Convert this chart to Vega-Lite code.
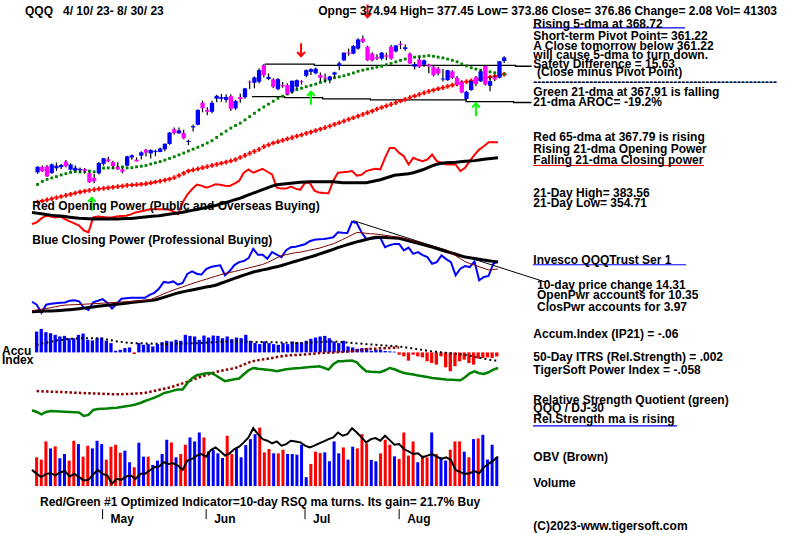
{
"$schema":"https://vega.github.io/schema/vega-lite/v6.json",
"width":800,"height":539,
"autosize":{"type":"fit","contains":"padding"},
"padding":0,
"background":"white",
"config":{"view":{"stroke":null},"point":{"opacity":1},"text":{"font":"Liberation Sans","fontWeight":"bold","fontSize":12,"align":"left","baseline":"middle","color":"#000000"}},
"datasets":{
"days":[
{"i":0,"d":"04-10","o":315.0,"h":318.3,"l":314.2,"c":318.0,"m21":308.5,"m65":299.0,"op":28.3,"opm":40,"cp":30,"cpm":20,"cpm2":21,"acc":0.305,"accm":0.111,"acc2":-0.567,"rsq":20.7,"vol":41.3,"vup":false,"obv":17.3},
{"i":1,"d":"04-11","o":318.0,"h":318.7,"l":315.2,"c":315.6,"m21":310.1,"m65":299.6,"op":30,"opm":39.3,"cp":27,"cpm":20.2,"cpm2":21.7,"acc":0.344,"accm":0.125,"acc2":-0.570,"rsq":19,"vol":38.0,"vup":false,"obv":13.3},
{"i":2,"d":"04-12","o":318.2,"h":319.0,"l":312.6,"c":312.8,"m21":311.2,"m65":300.2,"op":34,"opm":38.7,"cp":19,"cpm":20.4,"cpm2":22.5,"acc":0.296,"accm":0.14,"acc2":-0.572,"rsq":16.5,"vol":64.1,"vup":false,"obv":10},
{"i":3,"d":"04-13","o":314.6,"h":319.8,"l":314.2,"c":319.3,"m21":312.0,"m65":300.8,"op":36.7,"opm":38,"cp":27,"cpm":20.6,"cpm2":23.2,"acc":0.281,"accm":0.155,"acc2":-0.575,"rsq":19,"vol":54.1,"vup":true,"obv":13.3},
{"i":4,"d":"04-14","o":317.2,"h":320.3,"l":315.8,"c":318.6,"m21":312.7,"m65":301.4,"op":36,"opm":37.3,"cp":28,"cpm":20.8,"cpm2":24,"acc":0.257,"accm":0.17,"acc2":-0.578,"rsq":20,"vol":57.0,"vup":false,"obv":14},
{"i":5,"d":"04-17","o":317.8,"h":319.5,"l":316.8,"c":319.0,"m21":313.6,"m65":302.0,"op":35,"opm":36.8,"cp":28.5,"cpm":21,"cpm2":25,"acc":0.233,"accm":0.18,"acc2":-0.58,"rsq":19.7,"vol":39.9,"vup":true,"obv":11.7},
{"i":6,"d":"04-18","o":320.8,"h":321.7,"l":317.6,"c":318.3,"m21":314.3,"m65":302.6,"op":36,"opm":36.3,"cp":29,"cpm":21.3,"cpm2":26,"acc":0.242,"accm":0.19,"acc2":-0.583,"rsq":19.5,"vol":46.0,"vup":true,"obv":15},
{"i":7,"d":"04-19","o":316.4,"h":319.9,"l":316.0,"c":319.3,"m21":315.0,"m65":303.2,"op":33.3,"opm":35.8,"cp":29.3,"cpm":21.6,"cpm2":26.6,"acc":0.208,"accm":0.199,"acc2":-0.586,"rsq":19.2,"vol":36.6,"vup":false,"obv":16},
{"i":8,"d":"04-20","o":316.0,"h":318.8,"l":315.4,"c":317.5,"m21":315.4,"m65":303.8,"op":31,"opm":35.2,"cp":31,"cpm":22,"cpm2":26.9,"acc":0.208,"accm":0.202,"acc2":-0.589,"rsq":19,"vol":65.0,"vup":false,"obv":10.7},
{"i":9,"d":"04-21","o":316.2,"h":317.6,"l":315.0,"c":316.9,"m21":315.2,"m65":304.4,"op":29,"opm":34.7,"cp":31.5,"cpm":22.5,"cpm2":27.1,"acc":0.257,"accm":0.205,"acc2":-0.592,"rsq":18.7,"vol":60.3,"vup":true,"obv":13.3},
{"i":10,"d":"04-24","o":316.8,"h":317.3,"l":314.2,"c":315.8,"m21":315.6,"m65":304.9,"op":26.7,"opm":34.2,"cp":30.5,"cpm":23,"cpm2":27.3,"acc":0.276,"accm":0.207,"acc2":-0.595,"rsq":18.5,"vol":42.2,"vup":false,"obv":10},
{"i":11,"d":"04-25","o":314.6,"h":315.4,"l":309.4,"c":309.6,"m21":315.7,"m65":305.3,"op":22,"opm":34,"cp":24,"cpm":23.6,"cpm2":27.5,"acc":0.184,"accm":0.208,"acc2":-0.598,"rsq":15,"vol":57.9,"vup":false,"obv":6.7},
{"i":12,"d":"04-26","o":312.0,"h":314.2,"l":309.2,"c":310.2,"m21":315.3,"m65":305.7,"op":20,"opm":33.7,"cp":21.7,"cpm":24.2,"cpm2":27.8,"acc":0.175,"accm":0.208,"acc2":-0.6,"rsq":16,"vol":54.1,"vup":true,"obv":7.3},
{"i":13,"d":"04-27","o":314.6,"h":320.6,"l":313.8,"c":320.0,"m21":315.2,"m65":306.1,"op":35,"opm":33.5,"cp":29.5,"cpm":24.8,"cpm2":28,"acc":0.208,"accm":0.208,"acc2":-0.603,"rsq":21,"vol":65.0,"vup":true,"obv":12.7},
{"i":14,"d":"04-28","o":319.6,"h":322.8,"l":318.6,"c":322.6,"m21":317.3,"m65":306.4,"op":36,"opm":33.4,"cp":31,"cpm":25.5,"cpm2":28.3,"acc":0.218,"accm":0.2,"acc2":-0.606,"rsq":22,"vol":60.3,"vup":true,"obv":17.3},
{"i":15,"d":"05-01","o":322.0,"h":323.4,"l":320.4,"c":320.9,"m21":317.4,"m65":306.7,"op":35.5,"opm":33.3,"cp":32.7,"cpm":26,"cpm2":28.6,"acc":0.17,"accm":0.19,"acc2":-0.609,"rsq":22.2,"vol":38.0,"vup":false,"obv":13.3},
{"i":16,"d":"05-02","o":320.5,"h":321.3,"l":316.8,"c":318.4,"m21":317.4,"m65":307.0,"op":35,"opm":33.3,"cp":29,"cpm":26.6,"cpm2":28.9,"acc":0.136,"accm":0.178,"acc2":-0.612,"rsq":22.5,"vol":56.5,"vup":false,"obv":11.7},
{"i":17,"d":"05-03","o":318.0,"h":320.5,"l":316.3,"c":316.6,"m21":317.7,"m65":307.3,"op":35,"opm":33.4,"cp":23.3,"cpm":27.1,"cpm2":29.2,"acc":0.024,"accm":0.165,"acc2":-0.615,"rsq":23,"vol":59.3,"vup":false,"obv":3.3},
{"i":18,"d":"05-04","o":316.6,"h":317.4,"l":314.5,"c":315.3,"m21":317.9,"m65":307.6,"op":36,"opm":33.5,"cp":28,"cpm":27.6,"cpm2":29.5,"acc":0.039,"accm":0.155,"acc2":-0.612,"rsq":23.3,"vol":47.9,"vup":false,"obv":8.3},
{"i":19,"d":"05-05","o":318.6,"h":323.9,"l":318.3,"c":323.6,"m21":317.4,"m65":308.0,"op":36.5,"opm":33.7,"cp":33,"cpm":28.1,"cpm2":29.8,"acc":0.063,"accm":0.146,"acc2":-0.61,"rsq":24,"vol":50.8,"vup":true,"obv":7.3},
{"i":20,"d":"05-08","o":323.0,"h":324.6,"l":321.8,"c":324.2,"m21":317.5,"m65":308.2,"op":36.7,"opm":33.9,"cp":33.5,"cpm":28.6,"cpm2":30.1,"acc":0.073,"accm":0.14,"acc2":-0.607,"rsq":24.7,"vol":34.2,"vup":true,"obv":10.7},
{"i":21,"d":"05-09","o":321.8,"h":323.1,"l":320.9,"c":320.9,"m21":318.0,"m65":308.4,"op":38,"opm":34,"cp":34,"cpm":29.2,"cpm2":30.4,"acc":-0.024,"accm":0.136,"acc2":-0.604,"rsq":25.5,"vol":27.1,"vup":false,"obv":11.7},
{"i":22,"d":"05-10","o":324.0,"h":326.3,"l":321.9,"c":325.8,"m21":318.3,"m65":308.6,"op":40,"opm":34.4,"cp":34,"cpm":29.7,"cpm2":30.7,"acc":0.136,"accm":0.134,"acc2":-0.601,"rsq":26.5,"vol":62.2,"vup":true,"obv":8.3},
{"i":23,"d":"05-11","o":327.2,"h":327.6,"l":323.6,"c":325.6,"m21":318.7,"m65":308.9,"op":41,"opm":34.9,"cp":34,"cpm":30.2,"cpm2":31,"acc":0.111,"accm":0.132,"acc2":-0.597,"rsq":28,"vol":42.2,"vup":true,"obv":13.3},
{"i":24,"d":"05-12","o":325.2,"h":327.5,"l":322.4,"c":327.0,"m21":319.5,"m65":309.3,"op":42,"opm":35.4,"cp":34,"cpm":30.7,"cpm2":31.3,"acc":0.121,"accm":0.13,"acc2":-0.583,"rsq":30,"vol":42.2,"vup":false,"obv":13.3},
{"i":25,"d":"05-15","o":326.0,"h":327.2,"l":323.7,"c":326.6,"m21":320.1,"m65":309.8,"op":43.3,"opm":35.9,"cp":37,"cpm":31.2,"cpm2":31.6,"acc":0.087,"accm":0.128,"acc2":-0.569,"rsq":31.7,"vol":30.4,"vup":true,"obv":16.7},
{"i":26,"d":"05-16","o":326.0,"h":328.4,"l":325.8,"c":327.8,"m21":320.8,"m65":310.3,"op":43.3,"opm":36.4,"cp":39,"cpm":31.7,"cpm2":34,"acc":0.121,"accm":0.125,"acc2":-0.554,"rsq":33.5,"vol":36.6,"vup":true,"obv":20},
{"i":27,"d":"05-17","o":327.4,"h":330.6,"l":326.4,"c":330.4,"m21":321.6,"m65":310.8,"op":43.3,"opm":36.7,"cp":43.3,"cpm":33,"cpm2":36,"acc":0.15,"accm":0.122,"acc2":-0.54,"rsq":35.5,"vol":46.0,"vup":true,"obv":20.7},
{"i":28,"d":"05-18","o":330.3,"h":336.8,"l":329.8,"c":336.4,"m21":322.5,"m65":311.4,"op":43.3,"opm":37.4,"cp":50,"cpm":34.4,"cpm2":38,"acc":0.17,"accm":0.121,"acc2":-0.525,"rsq":38,"vol":66.5,"vup":true,"obv":25},
{"i":29,"d":"05-19","o":338.2,"h":339.1,"l":335.4,"c":336.1,"m21":323.4,"m65":312.2,"op":43,"opm":38.1,"cp":49.3,"cpm":35.9,"cpm2":40,"acc":0.16,"accm":0.122,"acc2":-0.508,"rsq":39,"vol":62.7,"vup":false,"obv":23.3},
{"i":30,"d":"05-22","o":336.0,"h":339.2,"l":335.8,"c":337.6,"m21":324.4,"m65":313.3,"op":41,"opm":38.8,"cp":50.5,"cpm":37.4,"cpm2":41.7,"acc":0.184,"accm":0.125,"acc2":-0.485,"rsq":40.5,"vol":41.3,"vup":true,"obv":24},
{"i":31,"d":"05-23","o":336.2,"h":337.9,"l":332.8,"c":333.3,"m21":325.4,"m65":314.5,"op":38.3,"opm":39.5,"cp":47.3,"cpm":38.9,"cpm2":43.4,"acc":0.17,"accm":0.128,"acc2":-0.462,"rsq":41.7,"vol":46.0,"vup":false,"obv":21.7},
{"i":32,"d":"05-24","o":331.4,"h":332.6,"l":329.7,"c":332.0,"m21":326.5,"m65":315.7,"op":50,"opm":40.2,"cp":49,"cpm":40,"cpm2":45,"acc":0.257,"accm":0.13,"acc2":-0.44,"rsq":41.7,"vol":59.3,"vup":false,"obv":17.3},
{"i":33,"d":"05-25","o":339.2,"h":340.7,"l":337.0,"c":339.9,"m21":327.5,"m65":316.3,"op":58,"opm":41.2,"cp":58,"cpm":41,"cpm2":46.7,"acc":0.242,"accm":0.132,"acc2":-0.416,"rsq":48,"vol":69.8,"vup":true,"obv":26.7},
{"i":34,"d":"05-26","o":340.6,"h":349.0,"l":340.4,"c":348.6,"m21":328.5,"m65":316.9,"op":63.3,"opm":42.1,"cp":60.7,"cpm":41.9,"cpm2":48.3,"acc":0.233,"accm":0.134,"acc2":-0.39,"rsq":53,"vol":64.1,"vup":true,"obv":28.3},
{"i":35,"d":"05-30","o":352.5,"h":353.6,"l":347.3,"c":349.5,"m21":329.6,"m65":317.5,"op":68,"opm":43,"cp":58.3,"cpm":42.9,"cpm2":49.8,"acc":0.184,"accm":0.136,"acc2":-0.365,"rsq":56,"vol":76.9,"vup":true,"obv":31.7},
{"i":36,"d":"05-31","o":348.6,"h":350.0,"l":345.8,"c":347.6,"m21":330.8,"m65":318.1,"op":67,"opm":44,"cp":57.3,"cpm":43.8,"cpm2":51.3,"acc":0.247,"accm":0.14,"acc2":-0.343,"rsq":57,"vol":69.8,"vup":false,"obv":33.3},
{"i":37,"d":"06-01","o":347.6,"h":353.5,"l":346.8,"c":352.4,"m21":332.0,"m65":318.7,"op":65,"opm":45,"cp":63,"cpm":44.8,"cpm2":52.7,"acc":0.218,"accm":0.144,"acc2":-0.322,"rsq":58,"vol":49.8,"vup":true,"obv":30.7},
{"i":38,"d":"06-02","o":354.6,"h":356.8,"l":352.8,"c":356.2,"m21":333.8,"m65":319.3,"op":66.5,"opm":46,"cp":65,"cpm":45.7,"cpm2":54.2,"acc":0.247,"accm":0.148,"acc2":-0.301,"rsq":58.3,"vol":51.7,"vup":true,"obv":37.3},
{"i":39,"d":"06-05","o":354.6,"h":357.2,"l":353.0,"c":355.5,"m21":335.6,"m65":319.9,"op":68.3,"opm":47,"cp":66,"cpm":46.7,"cpm2":55.7,"acc":0.242,"accm":0.152,"acc2":-0.28,"rsq":56,"vol":47.0,"vup":true,"obv":40},
{"i":40,"d":"06-06","o":354.0,"h":357.0,"l":352.6,"c":355.6,"m21":337.2,"m65":320.5,"op":68,"opm":48.4,"cp":66.7,"cpm":48.4,"cpm2":57.1,"acc":0.208,"accm":0.156,"acc2":-0.265,"rsq":53,"vol":40.3,"vup":true,"obv":36},
{"i":41,"d":"06-07","o":356.0,"h":357.0,"l":348.0,"c":349.2,"m21":338.8,"m65":321.2,"op":67,"opm":49.8,"cp":56.7,"cpm":50.1,"cpm2":58.5,"acc":0.233,"accm":0.158,"acc2":-0.252,"rsq":50,"vol":72.2,"vup":false,"obv":31.7},
{"i":42,"d":"06-08","o":349.4,"h":354.0,"l":348.6,"c":353.4,"m21":340.2,"m65":321.9,"op":66.7,"opm":51.2,"cp":61,"cpm":51.8,"cpm2":59.5,"acc":0.194,"accm":0.16,"acc2":-0.238,"rsq":51,"vol":46.0,"vup":false,"obv":34},
{"i":43,"d":"06-09","o":355.5,"h":357.5,"l":352.4,"c":354.4,"m21":341.5,"m65":323.0,"op":69,"opm":52.6,"cp":67,"cpm":53.5,"cpm2":60.5,"acc":0.218,"accm":0.159,"acc2":-0.222,"rsq":52,"vol":54.6,"vup":true,"obv":38.3},
{"i":44,"d":"06-12","o":355.4,"h":360.4,"l":354.6,"c":360.2,"m21":343.2,"m65":324.1,"op":71.7,"opm":54,"cp":70,"cpm":55.2,"cpm2":61.7,"acc":0.208,"accm":0.158,"acc2":-0.195,"rsq":52.7,"vol":41.3,"vup":true,"obv":40.7},
{"i":45,"d":"06-13","o":363.8,"h":364.4,"l":359.8,"c":363.4,"m21":345.0,"m65":325.2,"op":80,"opm":55.8,"cp":71,"cpm":56.8,"cpm2":62.9,"acc":0.257,"accm":0.156,"acc2":-0.167,"rsq":57,"vol":58.9,"vup":true,"obv":45},
{"i":46,"d":"06-14","o":363.2,"h":366.6,"l":360.3,"c":366.1,"m21":346.8,"m65":326.3,"op":83.3,"opm":57.6,"cp":74,"cpm":58.4,"cpm2":64,"acc":0.17,"accm":0.154,"acc2":-0.14,"rsq":61,"vol":67.4,"vup":true,"obv":50},
{"i":47,"d":"06-15","o":363.8,"h":371.0,"l":362.8,"c":370.0,"m21":348.6,"m65":327.4,"op":80,"opm":59.4,"cp":83.3,"cpm":60,"cpm2":65.2,"acc":0.136,"accm":0.153,"acc2":-0.122,"rsq":63.3,"vol":74.5,"vup":true,"obv":59.3},
{"i":48,"d":"06-16","o":372.7,"h":373.3,"l":366.0,"c":367.3,"m21":350.2,"m65":328.8,"op":82,"opm":61.2,"cp":77.3,"cpm":61,"cpm2":66.4,"acc":0.121,"accm":0.152,"acc2":-0.111,"rsq":62.5,"vol":84.0,"vup":false,"obv":53.3},
{"i":49,"d":"06-20","o":365.2,"h":368.3,"l":364.6,"c":366.4,"m21":351.7,"m65":329.8,"op":84,"opm":63,"cp":77.3,"cpm":62.1,"cpm2":67.6,"acc":0.16,"accm":0.151,"acc2":-0.1,"rsq":62,"vol":48.4,"vup":false,"obv":48.3},
{"i":50,"d":"06-21","o":365.0,"h":365.6,"l":360.4,"c":361.0,"m21":353.3,"m65":330.8,"op":81,"opm":64.8,"cp":73.3,"cpm":63.1,"cpm2":69.5,"acc":0.136,"accm":0.15,"acc2":-0.09,"rsq":61.5,"vol":53.2,"vup":false,"obv":46.7},
{"i":51,"d":"06-22","o":359.8,"h":365.8,"l":359.2,"c":365.2,"m21":354.9,"m65":331.5,"op":78.3,"opm":66.5,"cp":80,"cpm":64.2,"cpm2":71.8,"acc":0.121,"accm":0.148,"acc2":-0.078,"rsq":61,"vol":47.0,"vup":true,"obv":44},
{"i":52,"d":"06-23","o":361.9,"h":363.6,"l":360.6,"c":361.3,"m21":356.0,"m65":332.2,"op":65,"opm":68,"cp":77.5,"cpm":65.2,"cpm2":74.2,"acc":0.111,"accm":0.146,"acc2":-0.065,"rsq":60,"vol":47.0,"vup":false,"obv":46},
{"i":53,"d":"06-26","o":362.0,"h":363.0,"l":356.6,"c":357.0,"m21":357.2,"m65":333.0,"op":64,"opm":68.5,"cp":75,"cpm":66.5,"cpm2":76.5,"acc":0.136,"accm":0.144,"acc2":-0.052,"rsq":61,"vol":52.2,"vup":false,"obv":41.7},
{"i":54,"d":"06-27","o":358.4,"h":364.4,"l":357.4,"c":364.3,"m21":358.3,"m65":333.7,"op":64,"opm":69,"cp":82,"cpm":68,"cpm2":77.5,"acc":0.121,"accm":0.141,"acc2":-0.045,"rsq":62,"vol":46.0,"vup":true,"obv":43.3},
{"i":55,"d":"06-28","o":361.1,"h":365.0,"l":359.8,"c":364.6,"m21":359.5,"m65":334.5,"op":66,"opm":69.5,"cp":85,"cpm":69.4,"cpm2":78.5,"acc":0.16,"accm":0.139,"acc2":-0.041,"rsq":62.5,"vol":46.0,"vup":true,"obv":46.7},
{"i":56,"d":"06-29","o":364.0,"h":364.6,"l":362.2,"c":363.6,"m21":360.3,"m65":335.2,"op":64,"opm":70,"cp":85.5,"cpm":70.8,"cpm2":79.5,"acc":0.15,"accm":0.137,"acc2":-0.037,"rsq":63,"vol":45.1,"vup":true,"obv":46},
{"i":57,"d":"06-30","o":367.0,"h":370.3,"l":366.2,"c":370.0,"m21":361.1,"m65":336.0,"op":62.7,"opm":70.5,"cp":86.7,"cpm":72.2,"cpm2":80,"acc":0.145,"accm":0.137,"acc2":-0.034,"rsq":63.3,"vol":59.3,"vup":true,"obv":45},
{"i":58,"d":"07-03","o":369.1,"h":371.0,"l":367.4,"c":370.5,"m21":361.8,"m65":336.7,"op":70,"opm":70.7,"cp":88,"cpm":73.6,"cpm2":81,"acc":0.17,"accm":0.14,"acc2":-0.028,"rsq":63.8,"vol":12.8,"vup":true,"obv":41.7},
{"i":59,"d":"07-05","o":368.3,"h":371.4,"l":367.8,"c":370.8,"m21":362.5,"m65":337.5,"op":70,"opm":70.8,"cp":91,"cpm":75,"cpm2":82,"acc":0.199,"accm":0.144,"acc2":-0.022,"rsq":64.2,"vol":31.8,"vup":false,"obv":40},
{"i":60,"d":"07-06","o":367.4,"h":368.8,"l":364.0,"c":365.9,"m21":363.4,"m65":338.3,"op":62,"opm":70.9,"cp":92.5,"cpm":76.4,"cpm2":83,"acc":0.218,"accm":0.148,"acc2":-0.016,"rsq":64.6,"vol":49.4,"vup":false,"obv":41.7},
{"i":61,"d":"07-07","o":366.0,"h":368.2,"l":363.4,"c":365.5,"m21":364.3,"m65":339.1,"op":60,"opm":71,"cp":93,"cpm":78,"cpm2":84,"acc":0.233,"accm":0.152,"acc2":-0.01,"rsq":65,"vol":47.5,"vup":false,"obv":44},
{"i":62,"d":"07-10","o":364.6,"h":367.0,"l":363.0,"c":366.6,"m21":365.2,"m65":339.9,"op":59.5,"opm":71,"cp":93.3,"cpm":79.6,"cpm2":85.5,"acc":0.242,"accm":0.156,"acc2":-0.006,"rsq":63.5,"vol":48.4,"vup":true,"obv":46},
{"i":63,"d":"07-11","o":367.6,"h":369.2,"l":366.0,"c":368.8,"m21":365.9,"m65":340.8,"op":59.3,"opm":71,"cp":94,"cpm":81.2,"cpm2":87,"acc":0.208,"accm":0.159,"acc2":-0.003,"rsq":61.7,"vol":35.6,"vup":true,"obv":48.3},
{"i":64,"d":"07-12","o":372.3,"h":374.6,"l":370.0,"c":373.7,"m21":366.4,"m65":341.7,"op":72,"opm":71,"cp":95,"cpm":82.8,"cpm2":88.3,"acc":0.16,"accm":0.16,"acc2":0,"rsq":67,"vol":64.1,"vup":true,"obv":50},
{"i":65,"d":"07-13","o":375.3,"h":379.6,"l":375.0,"c":379.4,"m21":367.0,"m65":342.6,"op":80,"opm":70.5,"cp":100,"cpm":84.5,"cpm2":90.5,"acc":0.136,"accm":0.155,"acc2":0.004,"rsq":70,"vol":47.0,"vup":true,"obv":55},
{"i":66,"d":"07-14","o":379.5,"h":381.6,"l":377.8,"c":378.9,"m21":367.7,"m65":343.5,"op":80.5,"opm":70,"cp":99.5,"cpm":86.1,"cpm2":92.8,"acc":0.17,"accm":0.149,"acc2":0.008,"rsq":70.2,"vol":55.5,"vup":false,"obv":51.7},
{"i":67,"d":"07-17","o":378.9,"h":383.6,"l":378.5,"c":383.0,"m21":368.5,"m65":344.4,"op":81,"opm":70,"cp":99.3,"cpm":87.6,"cpm2":95,"acc":0.087,"accm":0.143,"acc2":0.013,"rsq":70.5,"vol":38.0,"vup":true,"obv":53.3},
{"i":68,"d":"07-18","o":381.6,"h":387.2,"l":381.0,"c":386.5,"m21":369.4,"m65":345.3,"op":81.7,"opm":70,"cp":110.7,"cpm":89,"cpm2":97.5,"acc":0.073,"accm":0.138,"acc2":0.02,"rsq":70.7,"vol":56.5,"vup":true,"obv":59.3},
{"i":69,"d":"07-19","o":387.0,"h":388.7,"l":384.6,"c":385.2,"m21":370.0,"m65":346.2,"op":77,"opm":70,"cp":109.3,"cpm":90.3,"cpm2":99.8,"acc":0.053,"accm":0.132,"acc2":0.029,"rsq":69,"vol":54.1,"vup":false,"obv":55},
{"i":70,"d":"07-20","o":382.6,"h":383.2,"l":375.0,"c":375.3,"m21":370.6,"m65":347.1,"op":78,"opm":70,"cp":100,"cpm":91.5,"cpm2":99.5,"acc":0.063,"accm":0.127,"acc2":0.039,"rsq":64,"vol":74.5,"vup":false,"obv":50},
{"i":71,"d":"07-21","o":378.9,"h":379.6,"l":374.6,"c":375.2,"m21":371.1,"m65":348.0,"op":81.7,"opm":70,"cp":93.3,"cpm":92.7,"cpm2":99,"acc":0.063,"accm":0.121,"acc2":0.048,"rsq":60,"vol":61.2,"vup":false,"obv":45},
{"i":72,"d":"07-24","o":377.0,"h":378.6,"l":375.5,"c":376.2,"m21":371.6,"m65":349.0,"op":83,"opm":71,"cp":93.5,"cpm":94,"cpm2":98.5,"acc":0.024,"accm":0.116,"acc2":0.052,"rsq":59.5,"vol":37.5,"vup":true,"obv":48.3},
{"i":73,"d":"07-25","o":376.2,"h":379.8,"l":375.4,"c":379.4,"m21":372.1,"m65":349.9,"op":84,"opm":72,"cp":94,"cpm":95,"cpm2":98.3,"acc":0.039,"accm":0.111,"acc2":0.055,"rsq":59.2,"vol":35.6,"vup":true,"obv":49.3},
{"i":74,"d":"07-26","o":378.0,"h":379.4,"l":375.4,"c":377.2,"m21":372.9,"m65":350.8,"op":83.3,"opm":73,"cp":94.5,"cpm":95,"cpm2":97.7,"acc":0.039,"accm":0.106,"acc2":0.059,"rsq":59,"vol":47.0,"vup":false,"obv":46.7},
{"i":75,"d":"07-27","o":382.6,"h":383.6,"l":375.6,"c":376.2,"m21":373.6,"m65":351.6,"op":95,"opm":74.5,"cp":85,"cpm":94.8,"cpm2":97,"acc":0.02,"accm":0.101,"acc2":0.062,"rsq":61,"vol":66.5,"vup":false,"obv":51.7},
{"i":76,"d":"07-28","o":380.1,"h":383.6,"l":379.6,"c":383.3,"m21":374.5,"m65":352.5,"op":105,"opm":76,"cp":87,"cpm":94.6,"cpm2":96.3,"acc":0.015,"accm":0.096,"acc2":0.066,"rsq":63.3,"vol":59.3,"vup":false,"obv":47.3},
{"i":77,"d":"07-31","o":384.2,"h":385.6,"l":381.3,"c":383.6,"m21":375.3,"m65":353.4,"op":105,"opm":77.5,"cp":88.3,"cpm":94.3,"cpm2":95.6,"acc":0.01,"accm":0.091,"acc2":0.069,"rsq":62,"vol":42.7,"vup":true,"obv":42.7},
{"i":78,"d":"08-01","o":381.4,"h":383.8,"l":380.5,"c":382.3,"m21":376.0,"m65":354.3,"op":100,"opm":78,"cp":88.3,"cpm":94,"cpm2":95,"acc":-0.034,"accm":0.087,"acc2":0.073,"rsq":60,"vol":38.9,"vup":false,"obv":43.3},
{"i":79,"d":"08-02","o":378.9,"h":379.5,"l":373.3,"c":373.6,"m21":376.4,"m65":355.2,"op":96.7,"opm":78.5,"cp":81.7,"cpm":92.7,"cpm2":94,"acc":-0.058,"accm":0.077,"acc2":null,"rsq":58.3,"vol":76.9,"vup":false,"obv":38.3},
{"i":80,"d":"08-03","o":371.9,"h":374.4,"l":370.4,"c":373.3,"m21":377.0,"m65":356.1,"op":88.3,"opm":79,"cp":84.5,"cpm":91.5,"cpm2":92.7,"acc":-0.121,"accm":0.067,"acc2":null,"rsq":57.5,"vol":43.7,"vup":false,"obv":36},
{"i":81,"d":"08-04","o":375.7,"h":377.0,"l":371.2,"c":371.8,"m21":377.3,"m65":357.0,"op":95,"opm":80,"cp":78.3,"cpm":90.2,"cpm2":91.5,"acc":-0.034,"accm":0.056,"acc2":null,"rsq":56.7,"vol":64.1,"vup":false,"obv":33.3},
{"i":82,"d":"08-07","o":373.0,"h":375.8,"l":371.8,"c":375.3,"m21":377.5,"m65":357.8,"op":93,"opm":81.5,"cp":80,"cpm":88.9,"cpm2":90.3,"acc":-0.058,"accm":0.046,"acc2":null,"rsq":55.8,"vol":34.2,"vup":true,"obv":34},
{"i":83,"d":"08-08","o":373.0,"h":373.4,"l":368.4,"c":372.0,"m21":377.8,"m65":358.6,"op":91.7,"opm":83,"cp":77,"cpm":87.6,"cpm2":89,"acc":-0.073,"accm":0.036,"acc2":null,"rsq":55,"vol":43.7,"vup":false,"obv":30},
{"i":84,"d":"08-09","o":371.8,"h":372.5,"l":366.6,"c":367.3,"m21":377.5,"m65":359.3,"op":93.3,"opm":85,"cp":75,"cpm":86.4,"cpm2":87.7,"acc":-0.131,"accm":0.025,"acc2":null,"rsq":54.2,"vol":41.3,"vup":false,"obv":31.7},
{"i":85,"d":"08-10","o":370.9,"h":371.8,"l":367.3,"c":368.2,"m21":377.0,"m65":360.0,"op":98.3,"opm":87,"cp":68.3,"cpm":85,"cpm2":86.3,"acc":-0.155,"accm":0.015,"acc2":null,"rsq":53.3,"vol":76.9,"vup":true,"obv":33.3},
{"i":86,"d":"08-11","o":365.0,"h":370.6,"l":363.9,"c":365.5,"m21":376.6,"m65":360.6,"op":91.7,"opm":88.5,"cp":70,"cpm":83.6,"cpm2":85,"acc":-0.179,"accm":0.008,"acc2":null,"rsq":52.7,"vol":46.0,"vup":false,"obv":30.7},
{"i":87,"d":"08-14","o":364.6,"h":370.2,"l":364.3,"c":370.0,"m21":376.0,"m65":361.3,"op":90,"opm":89.5,"cp":76.7,"cpm":82.1,"cpm2":83.7,"acc":-0.058,"accm":0.001,"acc2":null,"rsq":52.2,"vol":41.3,"vup":true,"obv":28.3},
{"i":88,"d":"08-15","o":369.4,"h":369.9,"l":365.2,"c":365.8,"m21":375.3,"m65":361.9,"op":88.3,"opm":90,"cp":73,"cpm":80.7,"cpm2":82.2,"acc":-0.218,"accm":-0.006,"acc2":null,"rsq":51.7,"vol":36.6,"vup":true,"obv":30},
{"i":89,"d":"08-16","o":365.9,"h":366.8,"l":361.6,"c":362.0,"m21":374.5,"m65":362.6,"op":88.3,"opm":90.2,"cp":70,"cpm":79.3,"cpm2":79.5,"acc":-0.276,"accm":-0.013,"acc2":null,"rsq":51.5,"vol":52.2,"vup":false,"obv":27.3},
{"i":90,"d":"08-17","o":363.8,"h":364.4,"l":357.7,"c":358.0,"m21":373.3,"m65":363.2,"op":88.3,"opm":90.5,"cp":56.7,"cpm":77.9,"cpm2":76.5,"acc":-0.203,"accm":-0.02,"acc2":null,"rsq":51.2,"vol":64.1,"vup":false,"obv":17.3},
{"i":91,"d":"08-18","o":354.5,"h":358.9,"l":353.8,"c":358.4,"m21":372.3,"m65":363.8,"op":81.7,"opm":91,"cp":63.3,"cpm":76.4,"cpm2":73.5,"acc":-0.131,"accm":-0.027,"acc2":null,"rsq":51,"vol":64.1,"vup":false,"obv":15},
{"i":92,"d":"08-21","o":359.3,"h":364.5,"l":358.9,"c":364.1,"m21":371.3,"m65":364.3,"op":85,"opm":91.5,"cp":66,"cpm":75,"cpm2":70.5,"acc":-0.107,"accm":-0.034,"acc2":null,"rsq":54,"vol":49.4,"vup":true,"obv":13.3},
{"i":93,"d":"08-22","o":366.2,"h":366.9,"l":361.4,"c":362.6,"m21":370.6,"m65":364.8,"op":91.7,"opm":91.8,"cp":65,"cpm":74.3,"cpm2":68.5,"acc":-0.155,"accm":-0.047,"acc2":null,"rsq":58,"vol":41.3,"vup":false,"obv":14},
{"i":94,"d":"08-23","o":364.0,"h":369.8,"l":363.6,"c":369.4,"m21":370.0,"m65":365.3,"op":98,"opm":92.2,"cp":70.7,"cpm":73.6,"cpm2":67,"acc":-0.179,"accm":-0.061,"acc2":null,"rsq":60,"vol":67.4,"vup":true,"obv":16},
{"i":95,"d":"08-24","o":372.3,"h":372.8,"l":361.8,"c":362.3,"m21":369.5,"m65":365.8,"op":103.3,"opm":92.8,"cp":51.7,"cpm":72.8,"cpm2":65.3,"acc":-0.092,"accm":-0.074,"acc2":null,"rsq":58,"vol":68.4,"vup":false,"obv":14},
{"i":96,"d":"08-25","o":361.6,"h":366.6,"l":358.6,"c":364.1,"m21":369.1,"m65":366.3,"op":106.7,"opm":93.5,"cp":55,"cpm":72.1,"cpm2":63.7,"acc":-0.082,"accm":-0.088,"acc2":null,"rsq":57.3,"vol":73.6,"vup":true,"obv":20},
{"i":97,"d":"08-28","o":366.2,"h":367.0,"l":364.1,"c":365.0,"m21":368.6,"m65":366.8,"op":110.7,"opm":94,"cp":56,"cpm":71.4,"cpm2":62,"acc":-0.073,"accm":-0.101,"acc2":null,"rsq":59,"vol":38.0,"vup":true,"obv":23.3},
{"i":98,"d":"08-29","o":365.9,"h":374.9,"l":365.6,"c":374.8,"m21":368.2,"m65":367.3,"op":110.7,"opm":94.5,"cp":68.3,"cpm":70.7,"cpm2":62.5,"acc":-0.082,"accm":-0.115,"acc2":null,"rsq":61.7,"vol":59.3,"vup":true,"obv":26.7},
{"i":99,"d":"08-30","o":374.94,"h":377.45,"l":373.86,"c":376.86,"m21":367.91,"m65":367.79,"op":110.7,"opm":95,"cp":70.7,"cpm":70,"cpm2":63,"acc":-0.06,"accm":-0.121,"acc2":null,"rsq":63.3,"vol":41.3,"vup":true,"obv":30.7}
],
"pricegrid":[{"lv":390,"t":"390"},{"lv":380,"t":"380"},{"lv":370,"t":"370"},{"lv":360,"t":"360"},{"lv":350,"t":"350"},{"lv":340,"t":"340"},{"lv":330,"t":"330"},{"lv":320,"t":"320"},{"lv":310,"t":"310"},{"lv":300,"t":"300"}],
"accgrid":[{"lv":0.5,"t":"+.50"},{"lv":0.25,"t":"+.25"},{"lv":0,"t":""},{"lv":-0.25,"t":"-.25"},{"lv":-0.5,"t":"-.50"}],
"arrows":[{"dir":"down","i":55.9,"p":381.0},{"dir":"down","i":70,"p":401.9},{"dir":"up","i":58,"p":354.9},{"dir":"up","i":11.5,"p":297.9},{"dir":"up","i":93,"p":348.7}],
"pivots":[{"ln":"upper","i":48.2,"p":373.2},{"ln":"upper","i":58.7,"p":372.6},{"ln":"upper","i":101.4,"p":372.1},{"ln":"upper","i":104.8,"p":372.1},
{"ln":"lower","i":45.5,"p":355.8},{"ln":"lower","i":52.4,"p":355.2},{"ln":"lower","i":60.5,"p":354.5},{"ln":"lower","i":70.6,"p":354.0},{"ln":"lower","i":90.9,"p":353.1},{"ln":"lower","i":101,"p":352.6},{"ln":"lower","i":104.8,"p":352.6}],
"trend":[{"i":68.3,"cp":111.7},{"i":109,"cp":50}],
"months":[{"m":"May","i":15},{"m":"Jun","i":37},{"m":"Jul","i":58},{"m":"Aug","i":78}],
"underlines":[{"u":"Rising 5-dma","r":2.4,"s":106.44,"e":138.73,"k":"blue"},{"u":"Falling 21-dma Closing power","r":16.27,"s":106.44,"e":142.77,"k":"red"},{"u":"Invesco QQQTrust Ser 1","r":26.27,"s":106.44,"e":138.94,"k":"blue"},{"u":"Rel.Strength ma is rising","r":42.5,"s":106.44,"e":137.03,"k":"blue"}],
"notes":[
{"b":"hq","r":0.67,"t":"QQQ"},
{"b":"hd","r":0.67,"t":"4/ 10/ 23- 8/ 30/ 23"},
{"b":"ho","r":0.67,"t":"Opng= 374.94 High= 377.45 Low= 373.86 Close= 376.86 Change= 2.08 Vol= 41303"},
{"b":"rt","r":2.0,"t":"Rising 5-dma at 368.72"},
{"b":"rt","r":3.23,"t":"Short-term Pivot Point= 361.22"},
{"b":"rt","r":4.23,"t":"A Close tomorrow below  361.22"},
{"b":"rt","r":5.1,"t":"will cause 5-dma to turn down."},
{"b":"rt","r":6.0,"t":"Safety Difference = 15.63"},
{"b":"ri","r":6.9,"t":"(Close minus Pivot Point)"},
{"b":"rt","r":7.9,"t":"-------------------------------------------------------------"},
{"b":"rt","r":8.83,"t":"Green 21-dma at  367.91 is falling"},
{"b":"rt","r":9.83,"t":"21-dma AROC= -19.2%"},
{"b":"rt","r":13.4,"t":"Red 65-dma at  367.79 is rising"},
{"b":"rt","r":14.6,"t":"Rising 21-dma Opening Power"},
{"b":"rt","r":15.67,"t":"Falling 21-dma Closing power"},
{"b":"rt","r":19.07,"t":"21-Day High= 383.56"},
{"b":"rt","r":20.0,"t":"21-Day Low= 354.71"},
{"b":"rt","r":25.83,"t":"Invesco QQQTrust Ser 1"},
{"b":"ri","r":28.27,"t":"10-day price change  14.31"},
{"b":"ri","r":29.33,"t":"OpenPwr accounts for  10.35"},
{"b":"ri","r":30.5,"t":"ClosPwr accounts for  3.97"},
{"b":"rt","r":33.23,"t":"Accum.Index (IP21) = -.06"},
{"b":"rt","r":35.6,"t":"50-Day ITRS (Rel.Strength) =  .002"},
{"b":"rt","r":36.9,"t":"TigerSoft Power Index = -.058"},
{"b":"rt","r":39.9,"t":"Relative Strength Quotient (green)"},
{"b":"rt","r":40.73,"t":"QQQ / DJ-30"},
{"b":"rt","r":41.77,"t":"Rel.Strength ma is rising"},
{"b":"rt","r":45.67,"t":"OBV (Brown)"},
{"b":"rt","r":48.27,"t":"Volume"},
{"b":"rt","r":52.6,"t":"(C)2023-www.tigersoft.com"},
{"b":"lp","r":20.33,"t":"Red Opening Power (Public and Overseas Buying)"},
{"b":"lp","r":23.73,"t":"Blue Closing Power (Professional Buying)"},
{"b":"bt","r":50.17,"t":"Red/Green #1 Optimized Indicator=10-day RSQ ma turns. Its gain= 21.7% Buy"},
{"b":"ac","r":35.0,"t":"Accu"},
{"b":"ac","r":35.83,"t":"Index"}
]
},
"layer":[
{
"data":{"name":"days"},
"encoding":{"x":{"field":"i","type":"quantitative","scale":{"domain":[-6.914,160.70],"nice":false,"zero":false},"axis":null}},
"layer":[
{"data":{"name":"pricegrid"},"mark":{"type":"rule","color":"#008000","strokeDash":[1.5,2.5],"strokeWidth":1},
 "encoding":{"x":{"datum":4.6,"type":"quantitative"},"x2":{"datum":97.4},"y":{"field":"lv","type":"quantitative","scale":{"domain":[117.68,405.61],"nice":false,"zero":false},"axis":null}}},
{"data":{"name":"pricegrid"},"mark":{"type":"text","dy":3},
 "encoding":{"x":{"datum":-5.66,"type":"quantitative"},"y":{"field":"lv","type":"quantitative","scale":{"domain":[117.68,405.61],"nice":false,"zero":false},"axis":null},"text":{"field":"t"}}},
{"data":{"name":"pivots"},"mark":{"type":"line","color":"#000000","strokeWidth":1.3,"interpolate":"step-after"},
 "encoding":{"y":{"field":"p","type":"quantitative","scale":{"domain":[117.68,405.61],"nice":false,"zero":false},"axis":null},"detail":{"field":"ln"}}},
{"mark":{"type":"point","shape":"cross","size":22,"filled":true,"color":"#ff0000"},
 "encoding":{"y":{"field":"m65","type":"quantitative","scale":{"domain":[117.68,405.61],"nice":false,"zero":false},"axis":null}}},
{"mark":{"type":"point","shape":"square","size":8,"filled":true,"color":"#008000"},
 "encoding":{"y":{"field":"m21","type":"quantitative","scale":{"domain":[117.68,405.61],"nice":false,"zero":false},"axis":null}}},
{"mark":{"type":"rule","color":"#000000","strokeWidth":1.2},
 "encoding":{"y":{"field":"l","type":"quantitative","scale":{"domain":[117.68,405.61],"nice":false,"zero":false},"axis":null},"y2":{"field":"h"}}},
{"mark":{"type":"bar","size":4.3},
 "encoding":{"y":{"field":"o","type":"quantitative","scale":{"domain":[117.68,405.61],"nice":false,"zero":false},"axis":null},"y2":{"field":"c"},
 "color":{"condition":{"test":"datum.c >= datum.o","value":"#0000ff"},"value":"#ff00ff"}}},
{"data":{"name":"arrows"},"transform":[{"filter":"datum.dir == 'down'"}],
 "mark":{"type":"point","shape":"M0,-1L0,1M-0.6,0.35L0,1L0.6,0.35","filled":false,"size":169,"strokeWidth":2,"color":"#ff0000"},
 "encoding":{"y":{"field":"p","type":"quantitative","scale":{"domain":[117.68,405.61],"nice":false,"zero":false},"axis":null}}},
{"data":{"name":"arrows"},"transform":[{"filter":"datum.dir == 'up'"}],
 "mark":{"type":"point","shape":"M0,1L0,-1M-0.6,-0.35L0,-1L0.6,-0.35","filled":false,"size":169,"strokeWidth":2,"color":"#00ff00"},
 "encoding":{"y":{"field":"p","type":"quantitative","scale":{"domain":[117.68,405.61],"nice":false,"zero":false},"axis":null}}}
]
},
{
"data":{"name":"days"},
"encoding":{"x":{"field":"i","type":"quantitative","scale":{"domain":[-6.798,163.16],"nice":false,"zero":false},"axis":null}},
"layer":[
{"mark":{"type":"line","color":"#ff0000","strokeWidth":2},
 "encoding":{"y":{"field":"op","type":"quantitative","scale":{"domain":[-289,250],"nice":false,"zero":false},"axis":null}}},
{"mark":{"type":"line","color":"#000000","strokeWidth":3},
 "encoding":{"y":{"field":"opm","type":"quantitative","scale":{"domain":[-289,250],"nice":false,"zero":false},"axis":null}}}
]
},
{
"data":{"name":"days"},
"encoding":{"x":{"field":"i","type":"quantitative","scale":{"domain":[-6.798,163.16],"nice":false,"zero":false},"axis":null}},
"layer":[
{"mark":{"type":"line","color":"#0000ff","strokeWidth":2},
 "encoding":{"y":{"field":"cp","type":"quantitative","scale":{"domain":[-209,330],"nice":false,"zero":false},"axis":null}}},
{"mark":{"type":"line","color":"#000000","strokeWidth":3},
 "encoding":{"y":{"field":"cpm","type":"quantitative","scale":{"domain":[-209,330],"nice":false,"zero":false},"axis":null}}},
{"mark":{"type":"line","color":"#800000","strokeWidth":1},
 "encoding":{"y":{"field":"cpm2","type":"quantitative","scale":{"domain":[-209,330],"nice":false,"zero":false},"axis":null}}},
{"data":{"name":"trend"},"mark":{"type":"line","color":"#000000","strokeWidth":1},
 "encoding":{"y":{"field":"cp","type":"quantitative","scale":{"domain":[-209,330],"nice":false,"zero":false},"axis":null}}}
]
},
{
"data":{"name":"days"},
"encoding":{"x":{"field":"i","type":"quantitative","scale":{"domain":[-6.798,163.16],"nice":false,"zero":false},"axis":null}},
"layer":[
{"data":{"name":"accgrid"},"mark":{"type":"rule","color":"#000000","strokeDash":[1,3],"strokeWidth":1},
 "encoding":{"x":{"datum":-0.85,"type":"quantitative"},"x2":{"datum":102},"y":{"field":"lv","type":"quantitative","scale":{"domain":[-2.7326,5.1017],"nice":false,"zero":false},"axis":null}}},
{"data":{"name":"accgrid"},"mark":{"type":"text","dy":3},
 "encoding":{"x":{"datum":-6.37,"type":"quantitative"},"y":{"field":"lv","type":"quantitative","scale":{"domain":[-2.7326,5.1017],"nice":false,"zero":false},"axis":null},"text":{"field":"t"}}},
{"mark":{"type":"bar","size":3.3},
 "encoding":{"y":{"field":"acc","type":"quantitative","scale":{"domain":[-2.7326,5.1017],"nice":false,"zero":false},"axis":null},"y2":{"datum":0},
 "color":{"condition":{"test":"datum.acc >= 0","value":"#0000ff"},"value":"#ff0000"}}},
{"mark":{"type":"line","color":"#000000","strokeWidth":2,"strokeDash":[2,3]},
 "encoding":{"y":{"field":"accm","type":"quantitative","scale":{"domain":[-2.7326,5.1017],"nice":false,"zero":false},"axis":null}}},
{"mark":{"type":"line","color":"#8b0000","strokeWidth":2.5,"strokeDash":[2.5,2.2]},
 "encoding":{"y":{"field":"acc2","type":"quantitative","scale":{"domain":[-2.7326,5.1017],"nice":false,"zero":false},"axis":null}}}
]
},
{
"data":{"name":"days"},
"mark":{"type":"line","color":"#008000","strokeWidth":2.5},
"encoding":{"x":{"field":"i","type":"quantitative","scale":{"domain":[-6.798,163.16],"nice":false,"zero":false},"axis":null},
 "y":{"field":"rsq","type":"quantitative","scale":{"domain":[-109,430],"nice":false,"zero":false},"axis":null}}
},
{
"data":{"name":"days"},
"mark":{"type":"bar","size":3},
"encoding":{"x":{"field":"i","type":"quantitative","scale":{"domain":[-6.798,163.16],"nice":false,"zero":false},"axis":null},
 "y":{"field":"vol","type":"quantitative","scale":{"domain":[-75.9,691.6],"nice":false,"zero":false},"axis":null},"y2":{"datum":0},
 "color":{"condition":{"test":"datum.vup","value":"#0000ff"},"value":"#ff0000"}}
},
{
"data":{"name":"days"},
"mark":{"type":"line","color":"#000000","strokeWidth":2},
"encoding":{"x":{"field":"i","type":"quantitative","scale":{"domain":[-6.798,163.16],"nice":false,"zero":false},"axis":null},
 "y":{"field":"obv","type":"quantitative","scale":{"domain":[-52.33,486.67],"nice":false,"zero":false},"axis":null}}
},
{
"data":{"name":"months"},
"layer":[
{"mark":{"type":"rule","color":"#000000","strokeWidth":1},
 "encoding":{"x":{"field":"i","type":"quantitative","scale":{"domain":[-6.798,163.16],"nice":false,"zero":false},"axis":null},
 "y":{"datum":50.9,"type":"quantitative","scale":{"domain":[0,53.9],"reverse":true,"nice":false,"zero":false},"axis":null},"y2":{"datum":51.9}}},
{"mark":{"type":"text","dx":8},
 "encoding":{"x":{"field":"i","type":"quantitative","scale":{"domain":[-6.798,163.16],"nice":false,"zero":false},"axis":null},
 "y":{"datum":51.9,"type":"quantitative","scale":{"domain":[0,53.9],"reverse":true,"nice":false,"zero":false},"axis":null},"text":{"field":"m"}}}
]
},
{
"data":{"name":"underlines"},
"mark":{"type":"rule","strokeWidth":1.2},
"encoding":{"x":{"field":"s","type":"quantitative","scale":{"domain":[-6.798,163.16],"nice":false,"zero":false},"axis":null},"x2":{"field":"e"},
 "y":{"field":"r","type":"quantitative","scale":{"domain":[0,53.9],"reverse":true,"nice":false,"zero":false},"axis":null},
 "color":{"field":"k","type":"nominal","scale":{"domain":["blue","red"],"range":["#0000ff","#ff0000"]},"legend":null}}
},
{
"data":{"name":"notes"},
"encoding":{"y":{"field":"r","type":"quantitative","scale":{"domain":[0,53.9],"reverse":true,"nice":false,"zero":false},"axis":null},"text":{"field":"t"}},
"layer":[
{"transform":[{"filter":"datum.b == 'hq'"}],"mark":{"type":"text"},"encoding":{"x":{"datum":-1.49,"type":"quantitative","scale":{"domain":[-6.798,163.16],"nice":false,"zero":false},"axis":null}}},
{"transform":[{"filter":"datum.b == 'hd'"}],"mark":{"type":"text"},"encoding":{"x":{"datum":6.59,"type":"quantitative"}}},
{"transform":[{"filter":"datum.b == 'ho'"}],"mark":{"type":"text"},"encoding":{"x":{"datum":60.82,"type":"quantitative"}}},
{"transform":[{"filter":"datum.b == 'rt'"}],"mark":{"type":"text"},"encoding":{"x":{"datum":106.5,"type":"quantitative"}}},
{"transform":[{"filter":"datum.b == 'ri'"}],"mark":{"type":"text"},"encoding":{"x":{"datum":107.28,"type":"quantitative"}}},
{"transform":[{"filter":"datum.b == 'lp'"}],"mark":{"type":"text"},"encoding":{"x":{"datum":0.06,"type":"quantitative"}}},
{"transform":[{"filter":"datum.b == 'bt'"}],"mark":{"type":"text"},"encoding":{"x":{"datum":1.7,"type":"quantitative"}}},
{"transform":[{"filter":"datum.b == 'ac'"}],"mark":{"type":"text"},"encoding":{"x":{"datum":-6.37,"type":"quantitative"}}}
]
}
],
"resolve":{"scale":{"x":"independent","y":"independent","color":"independent"}}
}
